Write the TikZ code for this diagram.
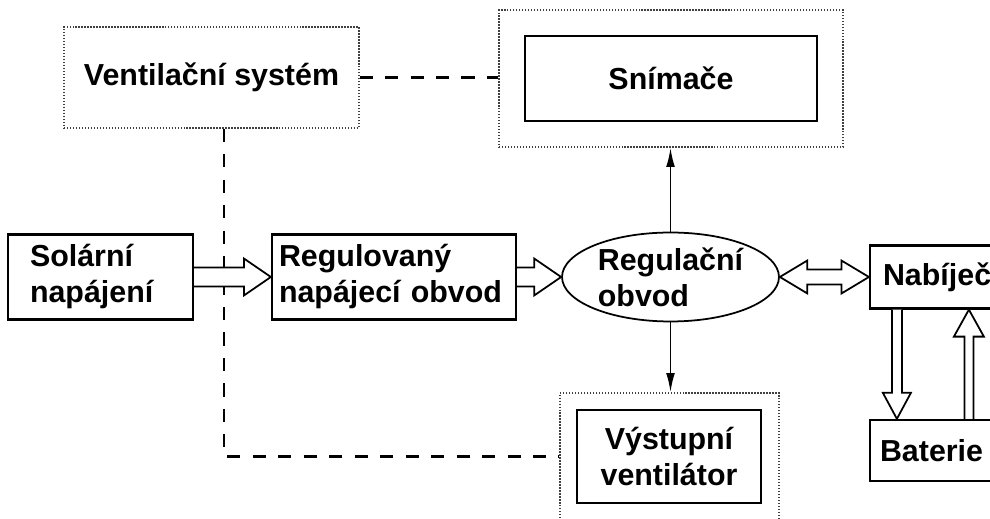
\documentclass[tikz,border=0pt]{standalone}
\usepackage{fontspec}
\setmainfont{Liberation Sans}
\usetikzlibrary{shapes.geometric,arrows.meta,calc}

% hollow block arrow: from, to, shaft half width, head half width, head length
\newcommand{\hollowarrow}[5]{%
  \coordinate (ha-c) at ($(#2)!#5!(#1)$);
  \draw[hollow] ($(#1)!#3!90:(#2)$) -- ($(ha-c)!#3!90:(#2)$) -- ($(ha-c)!#4!90:(#2)$) -- (#2)
    -- ($(ha-c)!#4!-90:(#2)$) -- ($(ha-c)!#3!-90:(#2)$) -- ($(#1)!#3!-90:(#2)$);
}
% hollow block arrow with two heads
\newcommand{\hollowdouble}[5]{%
  \coordinate (hd-a) at ($(#1)!#5!(#2)$);
  \coordinate (hd-b) at ($(#2)!#5!(#1)$);
  \draw[hollow] (#1) -- ($(hd-a)!#4!90:(#2)$) -- ($(hd-a)!#3!90:(#2)$) -- ($(hd-b)!#3!90:(#2)$)
    -- ($(hd-b)!#4!90:(#2)$) -- (#2) -- ($(hd-b)!#4!-90:(#2)$) -- ($(hd-b)!#3!-90:(#2)$)
    -- ($(hd-a)!#3!-90:(#2)$) -- ($(hd-a)!#4!-90:(#2)$) -- cycle;
}

\begin{document}
\begin{tikzpicture}[x=0.02cm, y=-0.02cm,
    every node/.append style={font=\fontsize{17.3}{20.5}\selectfont\bfseries},
    box/.style={draw, line width=1.3pt, rectangle, inner sep=0pt},
    dotbox/.style={draw=black!75, line width=0.7pt, dash pattern=on 0.8pt off 0.9pt, rectangle, inner sep=0pt},
    dashline/.style={line width=1.4pt, dash pattern=on 7.5pt off 7pt},
    hollow/.style={draw, line width=1pt, fill=white, line join=miter},
    thinarrow/.style={line width=1.1pt, -{Latex[length=11pt, width=5pt]}}]
    \useasboundingbox (0,0) rectangle (990,519);
    \clip (0,0) rectangle (990,519);

    % Top row
    \node[dotbox, minimum width=5.9cm, minimum height=2.02cm] (vent) at (211.5,77.5) {Ventilační systém};
    \node[dotbox, minimum width=6.88cm, minimum height=2.74cm] (sniout) at (671,78.5) {};
    \node[box, minimum width=5.84cm, minimum height=1.7cm] (sni) at (671,78.5) {Snímače};

    % Main row
    \node[box, minimum height=1.7cm, text width=2.82cm, inner xsep=0.44cm, align=left] (sol) at (100.5,277) {Solární\\napájení};
    \node[box, minimum height=1.7cm, text width=4.6cm, inner xsep=0.14cm, align=left] (reg) at (394,277) {Regulovaný\\napájecí obvod};
    \node[draw, ellipse, line width=1pt, minimum width=4.34cm, minimum height=1.78cm, inner sep=0pt, align=left] (ell) at (670.5,277) {Regulační\\obvod};
    \node[box, minimum height=1.26cm, text width=5.48cm, inner xsep=0.26cm, align=left] (nab) at (1020,277) {Nabíječ};

    % Bottom row
    \node[dotbox, minimum width=4.38cm, minimum height=2.74cm] (vysout) at (669.5,461.5) {};
    \node[box, minimum width=3.68cm, minimum height=1.86cm, align=center] (vys) at (669,456.5) {Výstupní\\ventilátor};
    \node[box, minimum height=1.22cm, text width=5.6cm, inner xsep=0.2cm, align=left] (bat) at (1020,450.5) {Baterie};

    % Dashed links
    \draw[dashline] (vent.east) -- (vent.east -| sniout.west);
    \draw[dashline] ($(vent.south)+(12.5,0)$) |- (vys.west -| vysout.west);

    % Signal arrows
    \draw[thinarrow] (ell.north) -- (ell.north |- sniout.south);
    \draw[thinarrow] (ell.south) -- (ell.south |- vysout.north);

    % Power arrows
    \hollowarrow{sol.east}{reg.west}{0.19cm}{0.37cm}{0.54cm}
    \hollowarrow{reg.east}{ell.west}{0.19cm}{0.37cm}{0.54cm}
    \hollowdouble{ell.east}{nab.west}{0.15cm}{0.33cm}{0.55cm}
    \coordinate (chgout) at ($(nab.south west)+(28,0)$);
    \coordinate (batin) at ($(bat.north west)+(28,0)$);
    \coordinate (batout) at ($(bat.north west)+(100,0)$);
    \coordinate (chgin) at ($(nab.south west)+(100,0)$);
    \hollowarrow{chgout}{batin}{0.1cm}{0.28cm}{0.52cm}
    \hollowarrow{batout}{chgin}{0.09cm}{0.3cm}{0.54cm}
\end{tikzpicture}
\end{document}
